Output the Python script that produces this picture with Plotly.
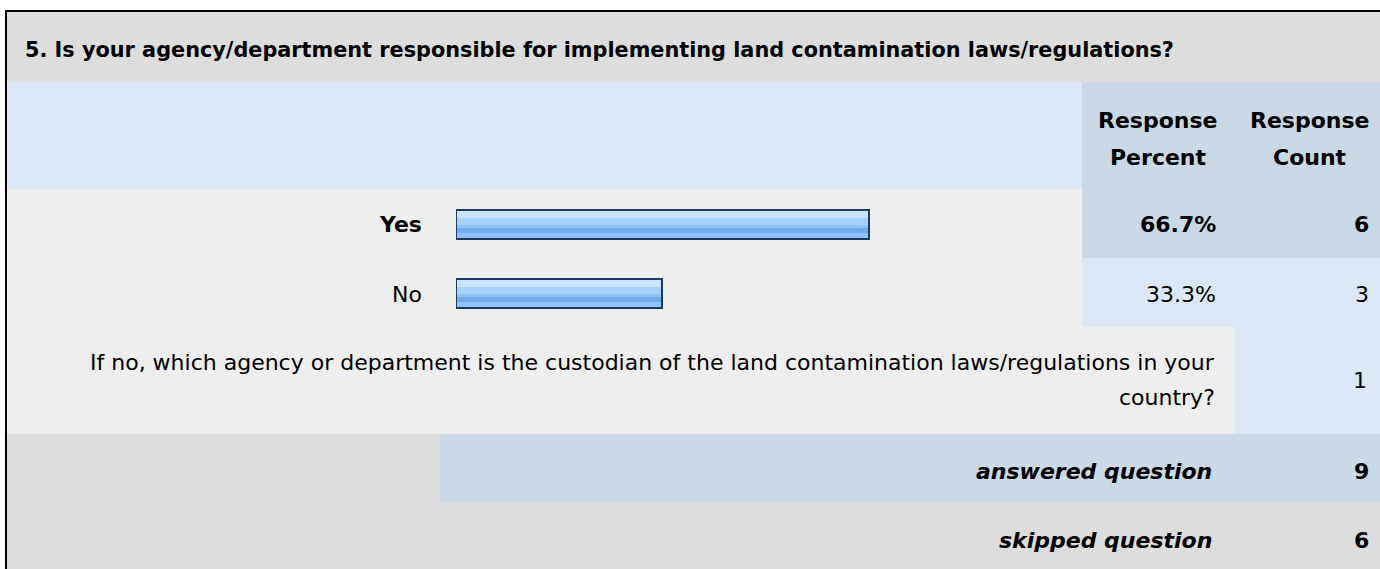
import plotly.graph_objects as go

# ---------------- data ----------------
title_text = "5. Is your agency/department responsible for implementing land contamination laws/regulations?"
header_pct = ["Response", "Percent"]
header_cnt = ["Response", "Count"]
choices = ["Yes", "No"]
percents = [66.7, 33.3]
counts = [6, 3]
other_lines = ["If no, which agency or department is the custodian of the land contamination laws/regulations in your",
               "country?"]
other_count = 1
answered_label = "answered question"
answered_count = 9
skipped_label = "skipped question"
skipped_count = 6

# ---------------- layout helpers ----------------
W, H = 1380, 569
FONT = "DejaVu Sans, Arial, sans-serif"


def px(x):
    return x / W


def py(y):
    return 1 - y / H


GREY_D = "#DDDDDD"
GREY_L = "#EEEEEE"
BLUE_L = "#DCE7F5"
BLUE_D = "#CBD8E6"

shapes = []


def rect(x0, y0, x1, y1, color):
    shapes.append(dict(type="rect", xref="paper", yref="paper", layer="below",
                       x0=px(x0), x1=px(x1), y0=py(y1), y1=py(y0),
                       fillcolor=color, line=dict(width=0)))


# cells
rect(7, 12, 1380, 82, GREY_D)          # title band
rect(7, 82, 1082, 189, BLUE_L)         # header left
rect(1082, 82, 1380, 189, BLUE_D)      # header columns
rect(7, 189, 1082, 258, GREY_L)        # yes row label/bar
rect(1082, 189, 1380, 258, BLUE_D)     # yes row values
rect(7, 258, 1082, 327, GREY_L)        # no row label/bar
rect(1082, 258, 1380, 327, BLUE_L)     # no row values
rect(7, 327, 1234, 434, GREY_L)        # other row text
rect(1234, 327, 1380, 434, BLUE_L)     # other row count
rect(7, 434, 440, 503, GREY_D)         # answered left
rect(440, 434, 1380, 503, BLUE_D)      # answered
rect(7, 503, 1380, 569, GREY_D)        # skipped
# outer border
shapes.append(dict(type="line", xref="paper", yref="paper", x0=px(6), x1=px(6), y0=0, y1=py(11),
                   line=dict(color="#000000", width=2)))
shapes.append(dict(type="line", xref="paper", yref="paper", x0=px(5), x1=1, y0=py(11), y1=py(11),
                   line=dict(color="#000000", width=2)))

annotations = []


def text(s, x, y, anchor="right", size=22, bold=False, italic=False):
    if bold:
        s = "<b>" + s + "</b>"
    if italic:
        s = "<i>" + s + "</i>"
    annotations.append(dict(text=s, xref="paper", yref="paper", x=px(x), y=py(y),
                            xanchor=anchor, yanchor="middle", showarrow=False,
                            font=dict(family=FONT, size=size, color="#000000")))


text(title_text, 23, 50, anchor="left", size=20.8, bold=True)
text(header_pct[0], 1158, 120, anchor="center", bold=True)
text(header_pct[1], 1158, 157, anchor="center", bold=True)
text(header_cnt[0], 1310, 120, anchor="center", bold=True)
text(header_cnt[1], 1310, 157, anchor="center", bold=True)

row_y = [225, 294]
for i, (c, p, n) in enumerate(zip(choices, percents, counts)):
    b = (i == 0)
    text(c, 424, row_y[i], bold=b)
    text(f"{p:.1f}%", 1218, row_y[i], bold=b)
    text(str(n), 1371, row_y[i], bold=b)

text(other_lines[0], 1217, 362)
text(other_lines[1], 1217, 398)
text(str(other_count), 1369, 380)

text(answered_label, 1214, 471, bold=True, italic=True)
text(str(answered_count), 1371, 471, bold=True)
text(skipped_label, 1214, 540, bold=True, italic=True)
text(str(skipped_count), 1371, 540, bold=True)

# ---------------- bars (gradient built from stacked bands) ----------------
fig = go.Figure()
BAR_H = 0.42
TOP_OFF = -0.19
bands = [(0.00, 0.25, "#C9E3FE"),
         (0.25, 0.50, "#A8D1FA"),
         (0.50, 0.62, "#8FC3F7"),
         (0.62, 0.77, "#72ACEF"),
         (0.77, 1.00, "#90C4F8")]
for f0, f1, col in bands:
    fig.add_trace(go.Bar(x=percents, y=choices, orientation="h",
                         width=(f1 - f0) * BAR_H, offset=TOP_OFF + f0 * BAR_H,
                         marker=dict(color=col, line=dict(width=0)),
                         hoverinfo="skip", showlegend=False))
fig.add_trace(go.Bar(x=percents, y=choices, orientation="h",
                     width=BAR_H, offset=TOP_OFF,
                     marker=dict(color="rgba(0,0,0,0)", line=dict(color="#1F3A64", width=2)),
                     hovertemplate="%{y}: %{x}%<extra></extra>", showlegend=False))

fig.update_layout(
    width=W, height=H, margin=dict(l=0, r=0, t=0, b=0),
    paper_bgcolor="#FFFFFF", plot_bgcolor="rgba(0,0,0,0)",
    barmode="overlay", bargap=0,
    shapes=shapes, annotations=annotations,
    xaxis=dict(domain=[px(456), px(1075)], range=[0, 100], visible=False, fixedrange=True),
    yaxis=dict(domain=[py(327), py(189)], range=[1.5, -0.5], type="category",
               categoryarray=choices, visible=False, fixedrange=True),
)

fig.write_html("out.html", config={"displayModeBar": False},
               post_script="document.body.style.margin='0';document.body.style.overflow='hidden';")
